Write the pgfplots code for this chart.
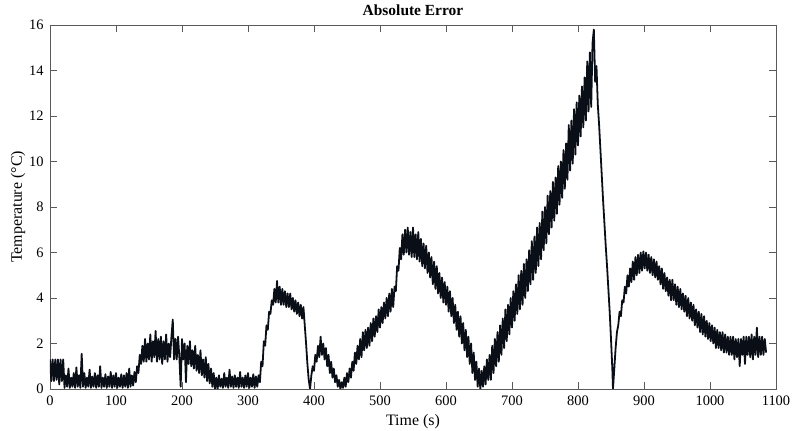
\documentclass[border=0pt]{standalone}
\usepackage{fontspec}
\setmainfont{Liberation Serif}
\usepackage{pgfplots}
\pgfplotsset{compat=1.18}
\definecolor{axisgray}{RGB}{90,90,90}
\definecolor{sig}{RGB}{10,14,22}

\begin{document}
\begin{tikzpicture}
\begin{axis}[
scale only axis,
width=726bp,
height=364bp,
xmin=0, xmax=1100,
ymin=0, ymax=16,
xtick={0,100,...,1100},
ytick={0,2,...,16},
tick align=inside,
major tick length=7bp,
axis line style={draw=axisgray},
every tick/.style={draw=axisgray},
/pgf/number format/assume math mode=true,
/pgf/number format/1000 sep={},
tick label style={font=\fontsize{14.5}{16}\selectfont},
xticklabel style={yshift=-3bp},
yticklabel style={xshift=-3bp},
label style={font=\fontsize{16}{18}\selectfont},
title style={font=\fontsize{15.5}{17}\selectfont\bfseries},
title={Absolute Error},
xlabel={Time (s)},
ylabel={Temperature (°C)},
xlabel style={at={(axis description cs:0.5,-0.0907)}, anchor=center},
ylabel style={at={(axis description cs:-0.0441,0.5)}, anchor=center, rotate=0},
]
\addplot[sig, line width=1.8pt, line join=round, mark=none] coordinates {
(0,1.3)(2,0.35)(4,1.3)(6,0.35)(8,1.3)(10,0.4)(12,1.3)(14,0.2)(16,1.3)(18,0.35)(20,1.3)
(22,0.05)(24,0.6)(26,0.1)(28,0.9)(30,0.05)(32,0.5)(34,0.1)(36,0.7)(38,0.05)(40,0.95)
(42,0.1)(44,0.6)(46,0.05)(48,1.55)(50,0.1)(52,0.7)(54,0.05)(56,0.5)(58,0.1)(60,0.85)
(62,0.05)(64,0.55)(66,0.1)(68,0.7)(70,0.05)(72,0.6)(74,0.1)(76,1.0)(78,0.05)(80,0.5)
(82,0.1)(84,0.65)(86,0.05)(88,0.55)(90,0.1)(92,0.75)(94,0.05)(96,0.6)(98,0.1)(100,0.7)
(102,0.05)(104,0.5)(106,0.1)(108,0.65)(110,0.05)(112,0.6)(114,0.1)(116,0.7)(118,0.05)(120,0.9)
(122,0.1)(124,0.6)(126,0.15)(128,0.75)(130,0.3)
(132,1.0)(134,0.7)(136,1.5)(138,1.1)(140,1.9)(142,1.2)(144,2.2)(146,1.2)(148,2.0)(150,1.3)
(152,2.4)(154,1.2)(156,2.1)(158,1.4)(160,2.55)(162,1.2)(164,2.2)(166,1.3)(168,2.3)(170,1.1)
(172,2.1)(174,1.3)(176,2.4)(178,1.2)(180,2.0)(182,1.4)(184,2.3)(186,3.05)(188,1.3)(190,2.2)
(192,1.3)(194,2.3)(196,1.4)
(198,0.1)(200,2.2)(202,1.3)(204,2.0)(206,0.3)(208,1.9)(210,1.1)(212,2.1)(214,1.0)(216,1.7)
(218,0.9)(220,1.9)(222,0.8)(224,1.5)(226,0.7)(228,1.7)(230,0.6)(232,1.3)(234,0.5)(236,1.4)
(238,0.35)(240,1.1)(242,0.25)(244,0.9)(246,0.1)(248,0.7)(250,0.0)(252,0.5)(254,0.0)
(256,0.6)(258,0.1)(260,0.45)(262,0.05)(264,0.7)(266,0.1)(268,0.5)(270,0.05)(272,0.85)(274,0.1)
(276,0.55)(278,0.05)(280,0.6)(282,0.1)(284,0.5)(286,0.05)(288,0.75)(290,0.1)(292,0.5)(294,0.05)
(296,0.6)(298,0.1)(300,0.7)(302,0.05)(304,0.5)(306,0.1)(308,0.65)(310,0.05)(312,0.55)(314,0.1)
(316,0.6)
(318,0.3)(320,1.2)(322,1.0)(324,2.1)(326,1.9)(328,2.8)(330,2.6)(332,3.4)(334,3.3)(336,3.9)
(338,3.7)(340,4.4)(342,3.8)(344,4.75)(346,3.8)(348,4.5)(350,3.7)(352,4.4)(354,3.7)(356,4.3)
(358,3.6)(360,4.2)(362,3.6)(364,4.2)(366,3.5)(368,4.0)(370,3.4)(372,3.9)(374,3.3)(376,3.8)
(378,3.2)(380,3.7)(382,3.1)(384,3.6)(386,2.8)(388,2.0)(390,1.1)(392,0.4)(394,0.0)
(396,0.6)(398,1.0)(400,0.8)(402,1.5)(404,1.2)(406,1.9)(408,1.4)(410,2.3)(412,1.5)(414,2.0)
(416,1.3)(418,1.8)(420,1.0)(422,1.5)(424,0.7)(426,1.2)(428,0.5)(430,0.9)(432,0.3)(434,0.6)
(436,0.1)(438,0.4)(440,0.0)(442,0.3)(444,0.05)(446,0.5)(448,0.1)(450,0.7)(452,0.3)(454,0.9)
(456,0.5)(458,1.2)(460,0.8)(462,1.6)(464,1.1)(466,1.9)(468,1.3)(470,2.2)(472,1.4)(474,2.5)
(476,1.7)(478,2.6)(480,1.8)(482,2.7)(484,1.9)(486,2.9)(488,2.1)(490,3.1)(492,2.3)(494,3.2)
(496,2.5)(498,3.5)(500,2.7)(502,3.6)(504,2.9)(506,3.8)(508,3.1)(510,4.0)(512,3.2)(514,4.2)
(516,3.4)(518,4.4)(520,3.6)(522,4.5)(524,4.3)(526,5.4)(528,5.2)(530,6.2)(532,5.7)(534,6.8)
(536,5.9)(538,7.0)(540,6.0)
(542,7.1)(544,5.9)(546,6.9)(548,5.8)(550,7.1)(552,5.8)(554,6.8)(556,5.7)(558,6.9)(560,5.6)
(562,6.6)(564,5.4)(566,6.4)(568,5.3)(570,6.3)(572,5.1)(574,6.0)(576,4.9)(578,5.8)(580,4.6)
(582,5.6)(584,4.4)(586,5.4)(588,4.2)(590,5.1)(592,4.0)(594,4.9)(596,3.8)(598,4.7)(600,3.7)
(602,4.5)(604,3.4)(606,4.3)(608,3.2)(610,4.0)(612,2.9)(614,3.7)(616,2.6)(618,3.4)(620,2.3)
(622,3.2)(624,2.0)(626,2.9)(628,1.7)(630,2.6)(632,1.4)(634,2.3)(636,1.1)(638,2.0)(640,0.7)
(642,1.6)(644,0.4)(646,1.2)(648,0.1)(650,0.9)(652,0.0)(654,0.8)(656,0.1)(658,1.0)(660,0.2)
(662,1.3)(664,0.4)(666,1.5)
(668,0.4)(670,1.9)(672,0.7)(674,2.2)(676,1.0)(678,2.5)(680,1.2)(682,2.8)(684,1.5)(686,3.1)
(688,1.8)(690,3.5)(692,2.1)(694,3.7)(696,2.4)(698,4.0)(700,2.7)(702,4.3)(704,3.0)(706,4.6)
(708,3.3)(710,5.0)(712,3.5)(714,5.2)(716,3.7)(718,5.5)(720,4.0)(722,5.7)(724,4.3)(726,6.1)
(728,4.6)(730,6.5)(732,4.8)(734,6.7)(736,5.1)(738,7.1)(740,5.4)(742,7.3)(744,5.7)(746,7.8)
(748,6.1)(750,8.0)(752,6.4)(754,8.5)(756,6.8)(758,8.7)(760,7.1)(762,9.1)(764,7.4)(766,9.3)
(768,7.7)(770,9.8)(772,8.1)(774,10.0)(776,8.4)(778,10.5)(780,8.8)(782,10.8)(784,9.2)(786,11.6)
(788,9.6)(790,11.8)(792,9.9)(794,12.3)(796,10.3)(798,12.6)(800,10.7)(802,12.9)(804,11.1)(806,13.3)
(808,11.5)(810,13.7)(812,11.8)(814,14.4)(816,12.2)(818,14.8)(820,12.4)(822,15.2)(824,15.8)(826,13.5)
(828,14.2)(830,12.5)
(832,11.6)(834,10.5)(836,9.4)(838,8.3)(840,7.3)(842,6.3)(844,5.4)(846,4.4)(848,3.4)(850,2.2)
(852,0.9)(853,0.0)(855,0.9)(857,1.8)(859,2.5)(861,2.8)(863,3.4)(865,3.2)(867,3.9)(869,3.8)
(871,4.5)(873,4.2)(875,5.0)(877,4.5)(879,5.3)(881,4.7)(883,5.6)(885,4.8)(887,5.8)(889,5.0)
(891,5.9)(893,5.1)(895,6.0)(897,5.2)(899,6.05)(901,5.3)(903,6.0)(905,5.2)(907,5.9)(909,5.1)
(911,5.8)(913,5.0)(915,5.7)(917,4.9)(919,5.6)(921,4.8)(923,5.4)(925,4.6)(927,5.3)(929,4.4)
(931,5.1)(933,4.3)(935,4.9)(937,4.1)(939,4.8)
(941,3.9)(943,4.8)(945,3.9)(947,4.6)(949,3.7)(951,4.5)(953,3.6)(955,4.4)(957,3.5)(959,4.2)
(961,3.4)(963,4.1)(965,3.2)(967,4.0)(969,3.1)(971,3.8)(973,3.0)(975,3.7)(977,2.8)(979,3.5)
(981,2.7)(983,3.4)(985,2.5)(987,3.3)(989,2.4)(991,3.2)(993,2.3)(995,3.0)(997,2.2)(999,2.9)
(1001,2.1)(1003,2.8)(1005,2.0)(1007,2.7)(1009,1.8)(1011,2.6)(1013,1.8)(1015,2.5)(1017,1.7)(1019,2.5)
(1021,1.6)(1023,2.4)(1025,1.6)(1027,2.3)(1029,1.5)(1031,2.3)(1033,1.5)(1035,2.3)(1037,1.3)(1039,2.2)
(1041,1.4)(1043,2.2)(1045,1.0)(1047,2.2)(1049,1.5)(1051,2.3)(1053,1.1)(1055,2.3)(1057,1.5)(1059,2.3)
(1061,1.4)(1063,2.4)(1065,1.3)(1067,2.3)(1069,1.5)(1071,2.7)(1073,1.4)(1075,2.3)(1077,1.5)(1079,2.3)
(1081,1.5)(1083,2.2)(1085,1.6)
};
\end{axis}
\pgfresetboundingbox
\path[use as bounding box] ([xshift=-50bp,yshift=-42bp]current axis.south west) rectangle ([xshift=16bp,yshift=25bp]current axis.north east);
\end{tikzpicture}
\end{document}
